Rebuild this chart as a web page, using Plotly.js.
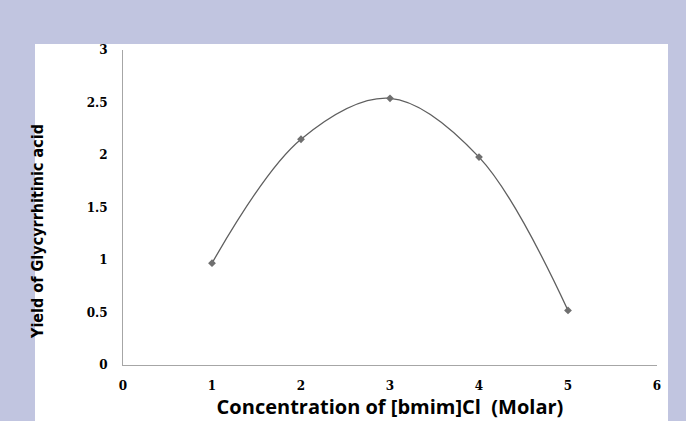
<!DOCTYPE html>
<html>
<head>
<meta charset="utf-8">
<script src="https://cdn.plot.ly/plotly-3.0.1.min.js"></script>
<style>
html,body{margin:0;padding:0;background:#c1c5e0;}
#chart{width:686px;height:421px;}
</style>
</head>
<body>
<div id="chart"></div>
<script>
const concentration = [1, 2, 3, 4, 5];
const yieldValues = [0.97, 2.15, 2.54, 1.98, 0.52];
const xTicks = [0, 1, 2, 3, 4, 5, 6];
const yTicks = [0, 0.5, 1, 1.5, 2, 2.5, 3];
const xTitle = "Concentration of [bmim]Cl  (Molar)";
const yTitle = "Yield of Glycyrrhitinic acid";

const W = 686, H = 421;
const m = {l: 123, r: 29, t: 50, b: 56};
const pw = W - m.l - m.r, ph = H - m.t - m.b;
// white panel in pixel coords
const px0 = 35, px1 = 668, py0 = 44, py1 = 421;
// y title centre in pixel coords
const ytx = 38, yty = 232;

const trace = {
  x: concentration,
  y: yieldValues,
  type: 'scatter',
  mode: 'lines+markers',
  line: {shape: 'spline', smoothing: 1, color: '#5f5f5f', width: 1.3},
  marker: {symbol: 'diamond', size: 6, color: '#6f6f6f'},
  hoverinfo: 'none'
};

const tickFont = {family: 'DejaVu Serif', size: 12, color: '#000', weight: 'bold'};

const layout = {
  width: W, height: H,
  margin: m,
  paper_bgcolor: '#c1c5e0',
  plot_bgcolor: '#ffffff',
  showlegend: false,
  shapes: [{
    type: 'rect', layer: 'below', xref: 'paper', yref: 'paper',
    x0: (px0 - m.l) / pw, x1: (px1 - m.l) / pw,
    y0: (m.t + ph - py1) / ph, y1: (m.t + ph - py0) / ph,
    fillcolor: '#ffffff', line: {width: 0}
  }],
  annotations: [{
    text: yTitle, textangle: -90, showarrow: false,
    xref: 'paper', yref: 'paper',
    x: (ytx - m.l) / pw, y: (m.t + ph - yty) / ph,
    xanchor: 'center', yanchor: 'middle',
    font: {family: 'DejaVu Sans Condensed, Liberation Sans', size: 16, color: '#000', weight: 'bold'}
  }],
  xaxis: {
    range: [0, 6], tickvals: xTicks, ticktext: xTicks.map(String),
    showgrid: false, zeroline: false, showline: true,
    linecolor: '#a6a6a6', linewidth: 1, ticks: '',
    ticklabelstandoff: 10,
    tickfont: tickFont,
    title: {text: xTitle, font: {family: 'Open Sans', size: 20, color: '#000', weight: 'bold'}, standoff: 6}
  },
  yaxis: {
    range: [0, 3], tickvals: yTicks, ticktext: yTicks.map(String),
    showgrid: false, zeroline: false, showline: true,
    linecolor: '#a6a6a6', linewidth: 1, ticks: '',
    ticklabelstandoff: 12,
    tickfont: tickFont
  }
};

Plotly.newPlot('chart', [trace], layout, {displayModeBar: false, staticPlot: true});
</script>
</body>
</html>
